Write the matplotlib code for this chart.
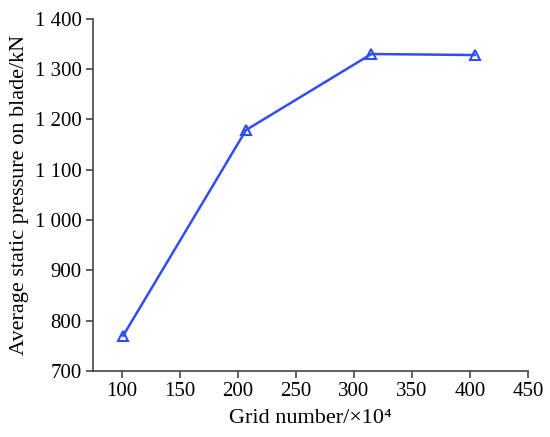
import matplotlib
matplotlib.use("Agg")
import matplotlib.pyplot as plt
from matplotlib.ticker import FuncFormatter

# grid independence data
grid_number = [101, 207, 315, 404]
pressure = [770, 1179, 1330, 1328]
x_ticks = [100, 150, 200, 250, 300, 350, 400, 450]
y_ticks = [700, 800, 900, 1000, 1100, 1200, 1300, 1400]

plt.rcParams['font.family'] = ['Liberation Serif', 'DejaVu Serif']

fig = plt.figure(figsize=(5.5, 4.37), dpi=100)
ax = fig.add_axes([0.169, 0.151, 0.791, 0.806])

ax.plot(grid_number, pressure, color='#2f4cf5', lw=1.8, marker='^',
        markersize=7, markerfacecolor='none', markeredgewidth=1.5)

ax.set_xlim(75, 450)
ax.set_ylim(700, 1400)
ax.set_xticks(x_ticks)
ax.set_yticks(y_ticks)
ax.yaxis.set_major_formatter(FuncFormatter(lambda v, p: f"{v:,.0f}".replace(',', ' ')))

for s in ['top', 'right']:
    ax.spines[s].set_visible(False)
for s in ['left', 'bottom']:
    ax.spines[s].set_color('#444444')
    ax.spines[s].set_linewidth(1.2)
ax.tick_params(direction='out', length=5, width=1.2, color='#444444', labelsize=15, pad=3)

ax.set_xlabel('Grid number/×10⁴', fontsize=16, labelpad=6)
ax.set_ylabel('Average static pressure on blade/kN', fontsize=16, labelpad=4)

fig.savefig('out.png', dpi=100)
